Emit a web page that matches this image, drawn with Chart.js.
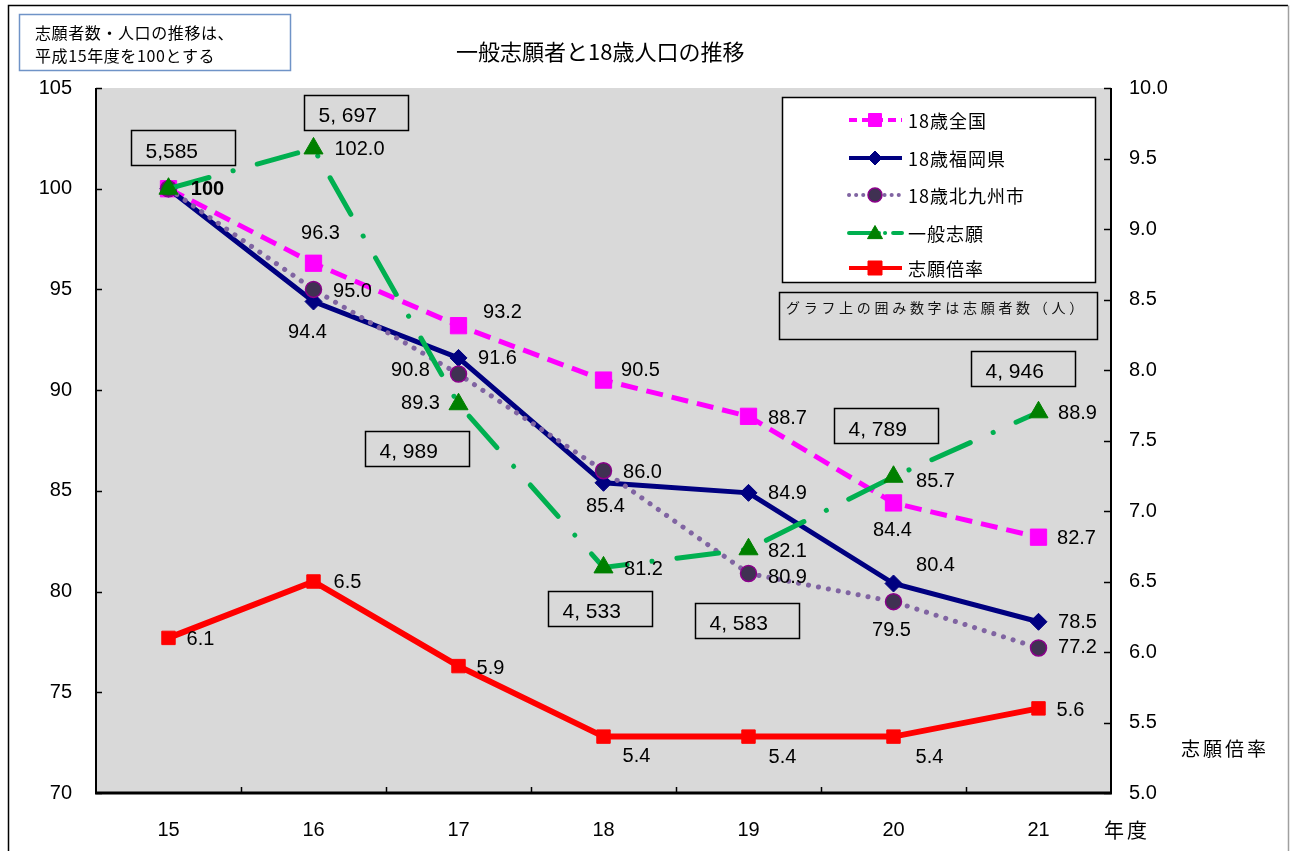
<!DOCTYPE html>
<html lang="ja">
<head>
<meta charset="utf-8">
<title>一般志願者と18歳人口の推移</title>
<script src="https://cdn.jsdelivr.net/npm/chart.js@4/dist/chart.umd.min.js"></script>
<style>
  html, body { margin: 0; padding: 0; background: #fff; }
  #wrap { width: 1290px; height: 851px; }
</style>
</head>
<body>
<div id="wrap"><canvas id="chart" width="1290" height="851"></canvas></div>
<script>
// ── Data ─────────────────────────────────────
const years       = ['15', '16', '17', '18', '19', '20', '21'];
const national    = [100, 96.3, 93.2, 90.5, 88.7, 84.4, 82.7];   // 18歳全国
const fukuoka     = [100, 94.4, 91.6, 85.4, 84.9, 80.4, 78.5];   // 18歳福岡県
const kitakyushu  = [100, 95.0, 90.8, 86.0, 80.9, 79.5, 77.2];   // 18歳北九州市
const applicants  = [100, 102.0, 89.3, 81.2, 82.1, 85.7, 88.9];  // 一般志願
const ratio       = [6.1, 6.5, 5.9, 5.4, 5.4, 5.4, 5.6];         // 志願倍率
const applicantCounts = ['5,585', '5, 697', '4, 989', '4, 533', '4, 583', '4, 789', '4, 946'];

const leftMin = 70, leftMax = 105, leftStep = 5;
const rightMin = 5, rightMax = 10, rightStep = 0.5;

// ── Fonts / colours ──────────────────────────
const JP  = '"Noto Sans CJK JP", sans-serif';
const NUM = '"Liberation Sans", Arial, sans-serif';
const PLOT_BG = '#d9d9d9';

// label offsets from each point, px (null = no label)
const labelOffsets = [
  [null, [7, -30], [44, -13], [37, -10], [39, 2], [-1, 28], [38, 1]],
  [null, [-6, 31], [39, 1], [2, 24], [39, 1], [42, -18], [39, 1]],
  [null, [39, 2], [-48, -4], [39, 2], [39, 4], [-2, 29], [39, 0]],
  [[39, 1], [46, 1], [-38, -1], [40, 2], [39, 2], [42, 5], [39, 1]],
  [[32, 2], [34, 1], [32, 2], [33, 20], [34, 21], [36, 21], [32, 2]]
];
// applicant-count boxes, centre offset from the 一般志願 point
const countBoxOffsets = [[14, -41], [42, -36], [-42, 44], [-4, 41], [-2, 71], [-8, -51], [-16, -44]];

function line(ctx, x1, y1, x2, y2) {
  ctx.beginPath();
  ctx.moveTo(x1, y1);
  ctx.lineTo(x2, y2);
  ctx.stroke();
}

function drawMarker(ctx, style, x, y, r, fill, stroke, bw) {
  ctx.save();
  ctx.fillStyle = fill;
  ctx.strokeStyle = stroke;
  ctx.lineWidth = bw || 1;
  ctx.setLineDash([]);
  ctx.beginPath();
  if (style === 'rect') {
    ctx.rect(x - r, y - r, 2 * r, 2 * r);
  } else if (style === 'rectRot') {
    ctx.moveTo(x - r, y); ctx.lineTo(x, y - r); ctx.lineTo(x + r, y); ctx.lineTo(x, y + r);
    ctx.closePath();
  } else if (style === 'triangle') {
    ctx.moveTo(x, y - r); ctx.lineTo(x + r, y + r * 0.75); ctx.lineTo(x - r, y + r * 0.75);
    ctx.closePath();
  } else {
    ctx.arc(x, y, r, 0, Math.PI * 2);
  }
  ctx.fill();
  ctx.stroke();
  ctx.restore();
}

// ── Background, frame, title, notes ─────────
const backdrop = {
  id: 'backdrop',
  beforeDraw(chart) {
    const { ctx, chartArea: a } = chart;
    ctx.save();
    ctx.fillStyle = '#fff';
    ctx.fillRect(0, 0, chart.width, chart.height);
    ctx.fillStyle = PLOT_BG;
    ctx.fillRect(a.left, a.top, a.right - a.left, a.bottom - a.top);

    // outer frame
    ctx.strokeStyle = '#000';
    ctx.lineWidth = 1.5;
    ctx.beginPath();
    ctx.moveTo(8.5, chart.height);
    ctx.lineTo(8.5, 5.5);
    ctx.lineTo(1288, 5.5);
    ctx.stroke();
    ctx.strokeStyle = '#a0a0a0';
    line(ctx, 1288.5, 5.5, 1288.5, chart.height);

    // note box (top-left)
    ctx.fillStyle = '#fff';
    ctx.fillRect(19, 14, 271, 56);
    ctx.strokeStyle = '#6f93c7';
    ctx.lineWidth = 1.5;
    ctx.strokeRect(19.5, 14.5, 271, 56);
    ctx.fillStyle = '#000';
    ctx.font = '16px ' + JP;
    ctx.textBaseline = 'middle';
    ctx.textAlign = 'left';
    ctx.letterSpacing = '0.6px';
    ctx.fillText('志願者数・人口の推移は、', 35, 33);
    ctx.fillText('平成15年度を100とする', 35, 56);

    // title
    ctx.font = '22px ' + JP;
    ctx.letterSpacing = '0px';
    ctx.fillText('一般志願者と18歳人口の推移', 456, 52);

    // axis captions
    ctx.font = '19px ' + JP;
    ctx.letterSpacing = '3px';
    ctx.fillText('志願倍率', 1181, 749);
    ctx.font = '20px ' + JP;
    ctx.fillText('年度', 1104, 830);
    ctx.letterSpacing = '0px';
    ctx.restore();
  }
};

// ── Axis lines with inward ticks ────────────
const axisLines = {
  id: 'axisLines',
  afterDatasetsDraw(chart) {
    const { ctx, chartArea: a, scales } = chart;
    ctx.save();
    ctx.strokeStyle = '#000';
    ctx.setLineDash([]);
    ctx.lineWidth = 2;
    line(ctx, a.left, a.top, a.left, a.bottom);
    line(ctx, a.right, a.top, a.right, a.bottom);
    ctx.lineWidth = 1.5;
    scales.y.ticks.forEach((t, i) => {
      const py = Math.round(scales.y.getPixelForTick(i)) + 0.5;
      line(ctx, a.left, py, a.left + 6, py);
    });
    scales.y1.ticks.forEach((t, i) => {
      const py = Math.round(scales.y1.getPixelForTick(i)) + 0.5;
      line(ctx, a.right - 7, py, a.right, py);
    });
    for (let i = 1; i < years.length; i++) {
      const px = Math.round((scales.x.getPixelForValue(i - 1) + scales.x.getPixelForValue(i)) / 2) + 0.5;
      line(ctx, px, a.bottom - 6, px, a.bottom);
    }
    ctx.lineWidth = 3;
    line(ctx, a.left - 1, a.bottom, a.right + 1, a.bottom);
    ctx.restore();
  }
};

// ── Value labels and applicant-count boxes ──
const valueLabels = {
  id: 'valueLabels',
  afterDatasetsDraw(chart) {
    const { ctx } = chart;
    ctx.save();
    ctx.fillStyle = '#000';
    ctx.textAlign = 'center';
    ctx.textBaseline = 'middle';
    chart.data.datasets.forEach((ds, di) => {
      const meta = chart.getDatasetMeta(di);
      meta.data.forEach((pt, i) => {
        const off = labelOffsets[di][i];
        if (!off) return;
        const v = ds.data[i];
        const bold = v === 100;
        ctx.font = (bold ? 'bold ' : '') + '20px ' + NUM;
        ctx.fillText(bold ? '100' : v.toFixed(1), pt.x + off[0], pt.y + off[1]);
      });
    });

    // boxes with applicant numbers (around 一般志願 points)
    const gMeta = chart.getDatasetMeta(3);
    ctx.strokeStyle = '#000';
    ctx.lineWidth = 1.5;
    ctx.textAlign = 'left';
    ctx.font = '21px ' + NUM;
    gMeta.data.forEach((pt, i) => {
      const cx = pt.x + countBoxOffsets[i][0];
      const cy = pt.y + countBoxOffsets[i][1];
      const bx = Math.round(cx - 52) + 0.5, by = Math.round(cy - 17.5) + 0.5;
      ctx.strokeRect(bx, by, 104, 35);
      ctx.fillText(applicantCounts[i], bx + 14, cy + 4);
    });
    ctx.restore();
  }
};

// ── Legend + remark box ─────────────────────
const legendBox = {
  id: 'legendBox',
  afterDraw(chart) {
    const { ctx } = chart;
    ctx.save();
    ctx.fillStyle = '#fff';
    ctx.fillRect(782, 97, 313, 185);
    ctx.strokeStyle = '#000';
    ctx.lineWidth = 1.5;
    ctx.strokeRect(782.5, 97.5, 313, 185);

    const rows = [120, 158, 195, 233, 268];
    const markerR = [6.5, 7, 7, 7.5, 7];
    chart.data.datasets.forEach((ds, di) => {
      const y = rows[di];
      ctx.save();
      ctx.strokeStyle = ds.borderColor;
      ctx.lineWidth = Math.min(ds.borderWidth, 4);
      ctx.lineCap = ds.borderCapStyle || 'butt';
      ctx.setLineDash(ds.legendDash || []);
      line(ctx, 849, y, 902, y);
      ctx.restore();
      drawMarker(ctx, ds.pointStyle, 875, y, markerR[di],
        ds.pointBackgroundColor, ds.pointBorderColor, ds.pointBorderWidth);
      ctx.fillStyle = '#000';
      ctx.font = '18px ' + JP;
      ctx.textAlign = 'left';
      ctx.textBaseline = 'middle';
      ctx.letterSpacing = '1px';
      ctx.fillText(ds.label, 908, y + 1);
      ctx.letterSpacing = '0px';
    });

    // remark
    ctx.strokeStyle = '#000';
    ctx.lineWidth = 1.5;
    ctx.strokeRect(779.5, 292.5, 318, 47);
    ctx.fillStyle = '#111';
    ctx.font = '14px ' + JP;
    ctx.letterSpacing = '3.7px';
    ctx.textBaseline = 'middle';
    ctx.fillText('グラフ上の囲み数字は志願者数（人）', 786, 308);
    ctx.letterSpacing = '0px';
    ctx.restore();
  }
};

// ── Chart ───────────────────────────────────
const canvas = document.getElementById('chart');

new Chart(canvas, {
  type: 'line',
  data: {
    labels: years,
    datasets: [
      {
        label: '18歳全国',
        data: national,
        yAxisID: 'y',
        order: 5,
        borderColor: '#ff00ff',
        borderWidth: 5,
        borderDash: [17, 9],
        legendDash: [8, 5],
        borderCapStyle: 'butt',
        pointStyle: 'rect',
        pointRadius: 11.5,
        pointBackgroundColor: '#ff00ff',
        pointBorderColor: '#ff00ff',
        pointBorderWidth: 1
      },
      {
        label: '18歳福岡県',
        data: fukuoka,
        yAxisID: 'y',
        order: 4,
        borderColor: '#000080',
        borderWidth: 5,
        pointStyle: 'rectRot',
        pointRadius: 8.5,
        pointBackgroundColor: '#000080',
        pointBorderColor: '#000080',
        pointBorderWidth: 1
      },
      {
        label: '18歳北九州市',
        data: kitakyushu,
        yAxisID: 'y',
        order: 3,
        borderColor: '#8064a2',
        borderWidth: 5,
        borderDash: [0.1, 10],
        legendDash: [0.1, 7],
        borderCapStyle: 'round',
        pointStyle: 'circle',
        pointRadius: 8,
        pointBackgroundColor: '#403152',
        pointBorderColor: '#8b008b',
        pointBorderWidth: 1.5
      },
      {
        label: '一般志願',
        data: applicants,
        yAxisID: 'y',
        order: 2,
        borderColor: '#00b050',
        borderWidth: 5,
        borderDash: [42, 25, 0.1, 25],
        legendDash: [30, 6, 0.1, 8],
        borderCapStyle: 'round',
        pointStyle: 'triangle',
        pointRadius: 11,
        pointBackgroundColor: '#008000',
        pointBorderColor: '#008000',
        pointBorderWidth: 1
      },
      {
        label: '志願倍率',
        data: ratio,
        yAxisID: 'y1',
        order: 1,
        borderColor: '#ff0000',
        borderWidth: 6,
        pointStyle: 'rect',
        pointRadius: 9.5,
        pointBackgroundColor: '#ff0000',
        pointBorderColor: '#ff0000',
        pointBorderWidth: 1
      }
    ]
  },
  options: {
    responsive: false,
    animation: false,
    devicePixelRatio: 1,
    events: [],
    layout: { padding: { top: 88, left: 0, right: 0, bottom: 0 } },
    elements: { line: { tension: 0 } },
    plugins: {
      legend: { display: false },
      tooltip: { enabled: false },
      title: { display: false }
    },
    scales: {
      x: {
        type: 'category',
        offset: true,
        grid: { display: false, drawTicks: false },
        border: { display: false },
        ticks: {
          color: '#000',
          font: { family: NUM, size: 20 },
          padding: 25,
          maxRotation: 0
        },
        afterFit: (s) => { s.height = 58; }
      },
      y: {
        position: 'left',
        min: leftMin,
        max: leftMax,
        grid: { display: false, drawTicks: false },
        border: { display: false },
        ticks: {
          stepSize: leftStep,
          color: '#000',
          font: { family: NUM, size: 20 },
          padding: 24
        },
        afterFit: (s) => { s.width = 96; }
      },
      y1: {
        position: 'right',
        min: rightMin,
        max: rightMax,
        grid: { display: false, drawTicks: false },
        border: { display: false },
        ticks: {
          stepSize: rightStep,
          color: '#000',
          font: { family: NUM, size: 20 },
          padding: 18,
          callback: (v) => Number(v).toFixed(1)
        },
        afterFit: (s) => { s.width = 179; }
      }
    }
  },
  plugins: [backdrop, axisLines, valueLabels, legendBox]
});
</script>
</body>
</html>
